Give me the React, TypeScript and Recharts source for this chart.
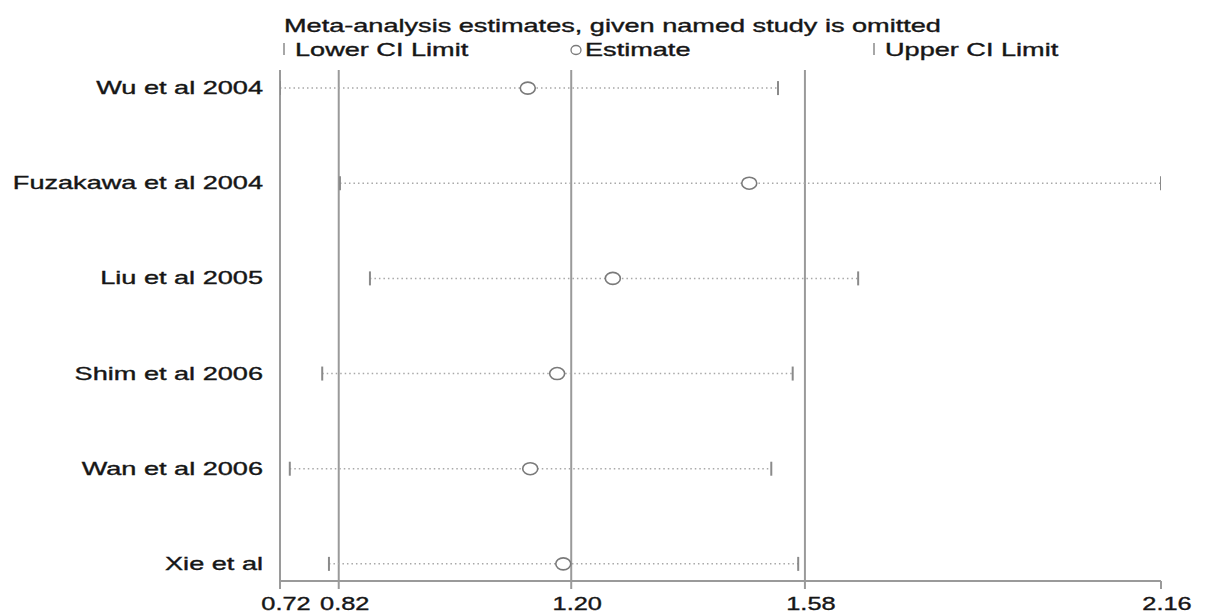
import { ComposedChart, Scatter, XAxis, YAxis, ReferenceLine } from "recharts";

const studies = [
  "Wu et al 2004",
  "Fuzakawa et al 2004",
  "Liu et al 2005",
  "Shim et al 2006",
  "Wan et al 2006",
  "Xie et al",
];
const lowerCI = [0.72, 0.818, 0.867, 0.789, 0.736, 0.8];
const estimates = [1.125, 1.487, 1.264, 1.173, 1.129, 1.183];
const upperCI = [1.534, 2.16, 1.665, 1.558, 1.523, 1.567];

// overall pooled CI lower / estimate / upper (vertical lines)
const overallLines = [0.816, 1.196, 1.578];
const xTicks = [0.72, 0.816, 1.196, 1.578, 2.16];

const FONT = '"Liberation Sans", Arial, Helvetica, sans-serif';
const STRETCH = 1.55;
const FS = 17.5;
const TEXT = "#161616";
const GREY = "#9a9a9a";

const rows = studies.map((name, i) => ({ name, y: i }));
const lowerPts = rows.map((r, i) => ({ x: lowerCI[i], y: r.y }));
const estPts = rows.map((r, i) => ({ x: estimates[i], y: r.y }));
const upperPts = rows.map((r, i) => ({ x: upperCI[i], y: r.y }));
const spans = rows.map((r, i) => [
  { x: lowerCI[i], y: r.y },
  { x: upperCI[i], y: r.y },
]);

const textStyle = {
  fontSize: FS,
  fontFamily: FONT,
  fill: TEXT,
  stroke: TEXT,
  strokeWidth: 0.35,
};

function LimitMark(props: any) {
  const { cx, cy } = props;
  return <line x1={cx} x2={cx} y1={cy - 7} y2={cy + 7} stroke="#8a8a8a" strokeWidth={2} />;
}

function EstimateMark(props: any) {
  const { cx, cy } = props;
  return <ellipse cx={cx} cy={cy} rx={7.5} ry={6} fill="#fff" stroke="#7a7a7a" strokeWidth={1.6} />;
}

function StudyTick(props: any) {
  const { x, y, payload } = props;
  const label = studies[payload.value];
  if (label === undefined) return null;
  return (
    <text transform={`translate(${x},${y + 6}) scale(${STRETCH},1)`} textAnchor="end" {...textStyle}>
      {label}
    </text>
  );
}

function ValueTick(props: any) {
  const { x, payload } = props;
  return (
    <text transform={`translate(${x + 6},610) scale(1.45,1)`} textAnchor="middle" {...textStyle}>
      {Number(payload.value).toFixed(2)}
    </text>
  );
}

function Stretched({ x, y, children }: { x: number; y: number; children: string }) {
  return (
    <text transform={`translate(${x},${y}) scale(${STRETCH},1)`} {...textStyle}>
      {children}
    </text>
  );
}

export default function App() {
  return (
    <div style={{ position: "absolute", left: 0, top: 0, width: 1205, height: 614, background: "#fff" }}>
      <ComposedChart width={1205} height={614} margin={{ top: 70, right: 44, bottom: 3, left: 0 }}>
        <XAxis
          type="number"
          dataKey="x"
          domain={[0.72, 2.16]}
          ticks={xTicks}
          interval={0}
          height={30}
          stroke={GREY}
          strokeWidth={2}
          tickSize={8}
          tick={<ValueTick />}
          allowDataOverflow
        />
        <YAxis
          type="number"
          dataKey="y"
          domain={[-0.19, 5.18]}
          reversed
          ticks={[0, 1, 2, 3, 4, 5]}
          interval={0}
          width={280}
          stroke={GREY}
          strokeWidth={2}
          tickLine={false}
          tickSize={0}
          tickMargin={17}
          tick={<StudyTick />}
        />
        {overallLines.map((v) => (
          <ReferenceLine key={v} x={v} stroke={GREY} strokeWidth={2} />
        ))}
        {spans.map((pts, i) => (
          <Scatter
            key={"span" + i}
            data={pts}
            line={{ stroke: "#a8a8a8", strokeWidth: 1.5, strokeDasharray: "1.5 3" }}
            shape={() => <g />}
            isAnimationActive={false}
          />
        ))}
        <Scatter data={lowerPts} shape={<LimitMark />} isAnimationActive={false} />
        <Scatter data={upperPts} shape={<LimitMark />} isAnimationActive={false} />
        <Scatter data={estPts} shape={<EstimateMark />} isAnimationActive={false} />
      </ComposedChart>
      <svg
        width={1205}
        height={68}
        style={{ position: "absolute", left: 0, top: 0, pointerEvents: "none" }}
      >
        <Stretched x={284} y={32}>Meta-analysis estimates, given named study is omitted</Stretched>
        <line x1={284} x2={284} y1={43} y2={55} stroke="#8a8a8a" strokeWidth={1.5} />
        <Stretched x={295} y={56}>Lower CI Limit</Stretched>
        <ellipse cx={576} cy={50} rx={5} ry={4.5} fill="#fff" stroke="#7a7a7a" strokeWidth={1.3} />
        <Stretched x={585} y={56}>Estimate</Stretched>
        <line x1={874} x2={874} y1={43} y2={55} stroke="#8a8a8a" strokeWidth={1.5} />
        <Stretched x={885} y={56}>Upper CI Limit</Stretched>
      </svg>
    </div>
  );
}
